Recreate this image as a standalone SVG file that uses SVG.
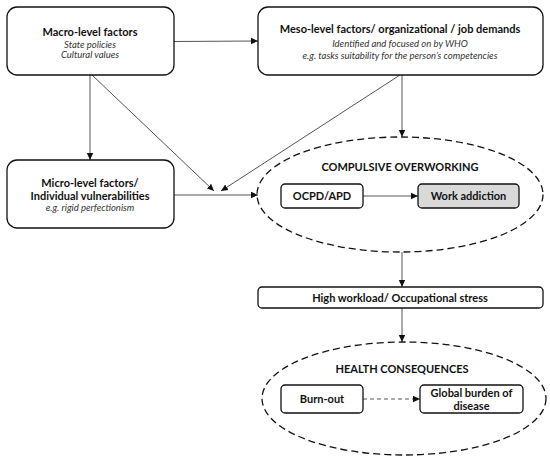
<svg xmlns="http://www.w3.org/2000/svg" width="550" height="461" viewBox="0 0 550 461">
<style>
text{font-family:Lato,"Liberation Sans",sans-serif;fill:#111;text-anchor:middle}
.b{font-weight:bold;font-size:11px}
.i{font-style:italic;font-size:9.5px;fill:#333}
.box{fill:#fff;stroke:#111;stroke-width:1.3}
.ell{fill:none;stroke:#111;stroke-width:1.3;stroke-dasharray:7 4}
.ln{stroke:#555;stroke-width:1;fill:none}
</style>
<defs>
<marker id="ah" markerWidth="8" markerHeight="8" refX="7" refY="4" orient="auto" markerUnits="userSpaceOnUse">
<path d="M0,0.8 L7,4 L0,7.2 Z" fill="#111"/>
</marker>
</defs>
<rect width="550" height="461" fill="#fff"/>
<g id="connectors">
<line class="ln" x1="174" y1="41.5" x2="258" y2="41" marker-end="url(#ah)"/>
<line class="ln" x1="90" y1="75" x2="90" y2="160" marker-end="url(#ah)"/>
<line class="ln" x1="92" y1="75" x2="214" y2="191" marker-end="url(#ah)"/>
<line class="ln" x1="400" y1="75" x2="221" y2="191" marker-end="url(#ah)"/>
<line class="ln" x1="402" y1="75" x2="402" y2="137" marker-end="url(#ah)"/>
<line class="ln" x1="174" y1="195" x2="258" y2="195" marker-end="url(#ah)"/>
<line class="ln" x1="363" y1="196" x2="418" y2="196" marker-end="url(#ah)"/>
<line class="ln" x1="402" y1="252" x2="402" y2="287" marker-end="url(#ah)"/>
<line class="ln" x1="402" y1="308" x2="402" y2="342" marker-end="url(#ah)"/>
<line class="ln" x1="363" y1="399" x2="420" y2="399" stroke-dasharray="4 3" marker-end="url(#ah)"/>
</g>
<g id="macro">
<rect class="box" x="7" y="7" width="167" height="68" rx="10"/>
<text class="b" x="90" y="36">Macro-level factors</text>
<text class="i" x="90" y="48">State policies</text>
<text class="i" x="90" y="58">Cultural values</text>
</g>
<g id="meso">
<rect class="box" x="258" y="7" width="285" height="68" rx="10"/>
<text class="b" x="400" y="33">Meso-level factors/ organizational  / job demands</text>
<text class="i" x="400" y="46.5">Identified and focused on by WHO</text>
<text class="i" x="400" y="58.5">e.g. tasks suitability for the person’s competencies</text>
</g>
<g id="micro">
<rect class="box" x="7" y="160" width="167" height="68" rx="10"/>
<text class="b" x="90" y="187">Micro-level factors/</text>
<text class="b" x="90" y="200">Individual vulnerabilities</text>
<text class="i" x="90" y="211">e.g. rigid perfectionism</text>
</g>
<g id="compulsive">
<ellipse class="ell" cx="400" cy="194.5" rx="143" ry="57.5"/>
<text class="b" x="400" y="171">COMPULSIVE OVERWORKING</text>
</g>
<g id="ocpd">
<rect class="box" x="281" y="184" width="82" height="24" rx="4"/>
<text class="b" x="322" y="200">OCPD/APD</text>
</g>
<g id="workaddiction">
<rect class="box" x="418" y="184" width="101" height="24" rx="4" fill="#d9d9d9" style="fill:#d9d9d9"/>
<text class="b" x="468.5" y="200">Work addiction</text>
</g>
<g id="workload">
<rect class="box" x="258" y="287" width="285" height="21" rx="4"/>
<text class="b" x="400" y="301.5">High workload/ Occupational stress</text>
</g>
<g id="health">
<ellipse class="ell" cx="404" cy="398.5" rx="142" ry="56.5"/>
<text class="b" x="402" y="373">HEALTH CONSEQUENCES</text>
</g>
<g id="burnout">
<rect class="box" x="281" y="385" width="82" height="28" rx="4"/>
<text class="b" x="322" y="403">Burn-out</text>
</g>
<g id="gbd">
<rect class="box" x="420" y="385" width="103" height="28" rx="4"/>
<text class="b" x="471.5" y="397">Global burden of</text>
<text class="b" x="471.5" y="410">disease</text>
</g>
</svg>
